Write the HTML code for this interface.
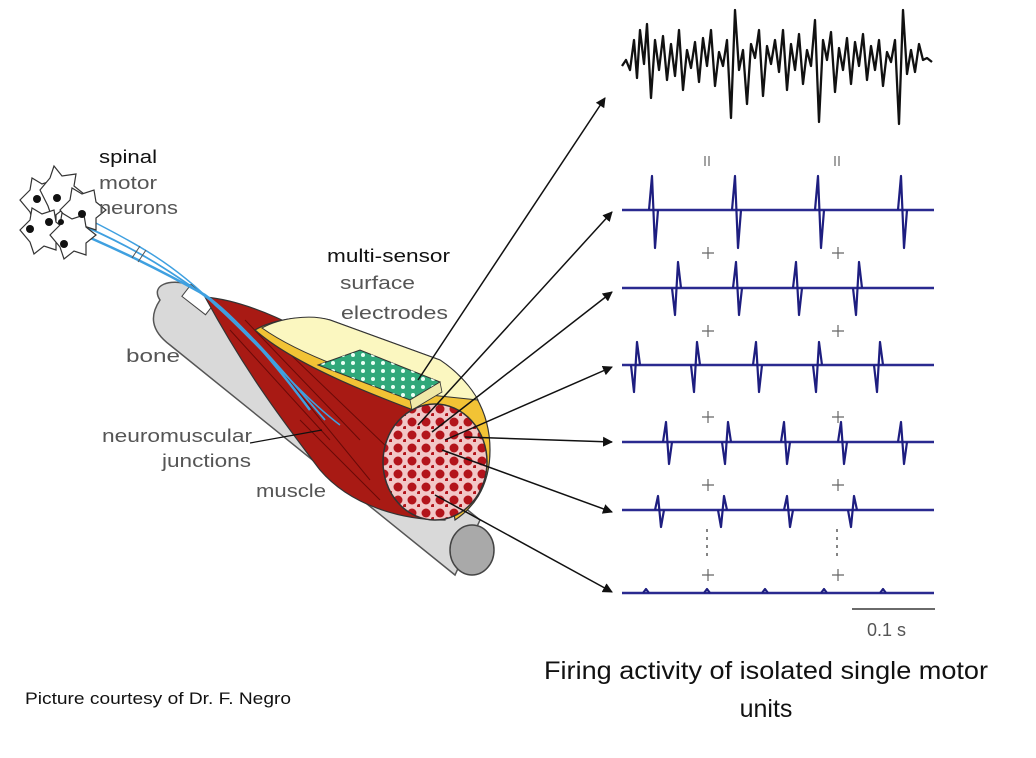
<!DOCTYPE html>
<html><head><meta charset="utf-8"><style>
html,body{margin:0;padding:0;background:#fff;}
svg{display:block;}
.lbl{font-family:"Liberation Sans",sans-serif;font-size:18px;fill:#555;}
.cal{font-family:"Liberation Sans","DejaVu Sans",sans-serif;fill:#111;}
</style></head><body>
<svg width="1036" height="758" viewBox="0 0 1036 758" xmlns="http://www.w3.org/2000/svg">
<defs>
<marker id="ah" markerWidth="10" markerHeight="10" refX="9" refY="5" orient="auto" markerUnits="userSpaceOnUse">
<path d="M0,0 L10,5 L0,10 z" fill="#111"/></marker>
<pattern id="dots" width="10" height="8" patternUnits="userSpaceOnUse">
<circle cx="3" cy="3" r="2" fill="#e8fff4"/></pattern>
<pattern id="fib" width="14" height="13" patternUnits="userSpaceOnUse">
<rect width="14" height="13" fill="#f2c7c7"/>
<circle cx="6" cy="6" r="4.5" fill="#b3141b"/><circle cx="13" cy="12" r="2" fill="#b3141b"/></pattern>
</defs>

<!-- bone -->
<path d="M160,300 C150,285 170,278 190,285 L480,520 L455,575 L170,345 C150,330 150,315 160,300 z" fill="#d9d9d9" stroke="#555" stroke-width="1.5"/>
<ellipse cx="472" cy="550" rx="22" ry="25" fill="#a9a9a9" stroke="#444" stroke-width="1.5"/>
<rect x="183" y="292" width="30" height="15" transform="rotate(38 198 300)" fill="#fff" stroke="#444"/>

<!-- muscle red body -->
<path d="M205,297 C240,300 300,320 380,380 L440,420 L445,520 C400,520 350,505 320,470 C290,430 250,380 205,297 z" fill="#a81a14" stroke="#333" stroke-width="1.2"/>
<path d="M230,330 L330,440 M245,320 L360,440 M265,330 L390,450 M280,370 L370,480 M300,420 L380,500" stroke="#6a0a08" stroke-width="1" fill="none"/>
<!-- yellow fat layer -->
<path d="M255,330 C275,318 310,315 330,320 L440,360 C470,380 490,410 490,450 C490,490 470,510 455,520 L440,420 C400,405 300,370 255,330 z" fill="#f2c335" stroke="#333" stroke-width="1.2"/>
<path d="M262,328 C280,318 310,314 330,320 L440,360 C455,370 470,385 478,400 L430,395 C370,380 300,355 262,328 z" fill="#fbf7c0" stroke="#333" stroke-width="1"/>
<!-- electrode grid -->
<path d="M318,365 L360,350 L440,382 L410,400 z" fill="#2fa87a" stroke="#333" stroke-width="1"/>
<path d="M318,365 L360,350 L440,382 L410,400 z" fill="url(#dots)"/>
<path d="M410,400 L440,382 L442,392 L412,410 z" fill="#efe8a8" stroke="#333" stroke-width="0.8"/>
<!-- cross section -->
<ellipse cx="435" cy="462" rx="52" ry="58" fill="url(#fib)" stroke="#333" stroke-width="1.5"/>

<!-- nerve -->
<path d="M60,225 C120,250 160,270 205,295 C240,320 280,370 310,410" stroke="#3fa0e0" stroke-width="2.5" fill="none"/>
<path d="M70,220 C130,245 170,270 210,300 C250,330 290,380 325,420" stroke="#3fa0e0" stroke-width="1.8" fill="none"/>
<path d="M80,215 C140,245 175,265 215,305 C255,340 300,395 340,425" stroke="#3fa0e0" stroke-width="1.5" fill="none"/>
<path d="M132,258 l8,-12 M138,262 l8,-12" stroke="#555" stroke-width="1"/>

<!-- neurons -->
<g fill="#fff" stroke="#333" stroke-width="1.2">
<path d="M20,200 l10,-10 l2,-12 l10,6 l12,-4 l2,12 l10,8 l-10,8 l0,12 l-12,-4 l-10,8 l-4,-12 z"/>
<path d="M40,190 l10,-12 l4,-12 l8,10 l14,-2 l-2,12 l10,8 l-10,8 l0,12 l-12,-4 l-10,8 l-4,-12 z"/>
<path d="M60,210 l10,-10 l2,-12 l10,6 l12,-4 l2,12 l10,8 l-10,8 l0,12 l-12,-4 l-10,8 l-4,-12 z"/>
<path d="M20,230 l10,-10 l2,-12 l10,6 l12,-4 l2,12 l10,8 l-10,8 l0,12 l-12,-4 l-10,8 l-4,-12 z"/>
<path d="M50,235 l10,-10 l2,-12 l10,6 l12,-4 l2,12 l10,8 l-10,8 l0,12 l-12,-4 l-10,8 l-4,-12 z"/>
</g>
<g fill="#111"><circle cx="37" cy="199" r="4"/><circle cx="57" cy="198" r="4"/><circle cx="82" cy="214" r="4"/><circle cx="49" cy="222" r="4"/><circle cx="30" cy="229" r="4"/><circle cx="64" cy="244" r="4"/><circle cx="61" cy="222" r="3"/></g>

<!-- labels -->
<g lengthAdjust="spacingAndGlyphs">
<text x="99" y="163" class="cal" font-size="18" textLength="58" lengthAdjust="spacingAndGlyphs">spinal</text>
<text x="99" y="189" class="lbl" textLength="58" lengthAdjust="spacingAndGlyphs">motor</text>
<text x="99" y="214" class="lbl" textLength="79" lengthAdjust="spacingAndGlyphs">neurons</text>
<text x="327" y="262" class="cal" font-size="18" textLength="123" lengthAdjust="spacingAndGlyphs">multi-sensor</text>
<text x="340" y="289" class="lbl" textLength="75" lengthAdjust="spacingAndGlyphs">surface</text>
<text x="341" y="319" class="lbl" textLength="107" lengthAdjust="spacingAndGlyphs">electrodes</text>
<text x="126" y="362" class="lbl" textLength="54" lengthAdjust="spacingAndGlyphs">bone</text>
<text x="102" y="442" class="lbl" textLength="150" lengthAdjust="spacingAndGlyphs">neuromuscular</text>
<text x="162" y="467" class="lbl" textLength="89" lengthAdjust="spacingAndGlyphs">junctions</text>
<text x="256" y="497" class="lbl" textLength="70" lengthAdjust="spacingAndGlyphs">muscle</text>
</g>
<line x1="250" y1="443" x2="322" y2="430" stroke="#111" stroke-width="1.2"/>

<!-- arrows -->
<g stroke="#111" stroke-width="1.5" fill="none" marker-end="url(#ah)">
<line x1="418" y1="380" x2="605" y2="98"/>
<line x1="418" y1="425" x2="612" y2="212"/>
<line x1="432" y1="432" x2="612" y2="292"/>
<line x1="445" y1="440" x2="612" y2="367"/>
<line x1="465" y1="437" x2="612" y2="442"/>
<line x1="442" y1="450" x2="612" y2="512"/>
<line x1="435" y1="495" x2="612" y2="592"/>
</g>

<!-- raw EMG -->
<path d="M622,66 L626,60 L630,70 L634,40 L637,78 L640,30 L644,64 L647,24 L651,98 L655,40 L659,70 L663,36 L667,80 L671,44 L675,76 L679,30 L683,90 L687,50 L691,68 L695,42 L699,82 L703,38 L707,66 L711,30 L715,86 L719,52 L723,66 L727,40 L731,118 L735,10 L739,70 L743,50 L747,104 L751,44 L755,58 L759,30 L763,96 L767,46 L771,64 L775,40 L779,72 L783,30 L787,90 L791,44 L795,70 L799,34 L803,84 L807,50 L811,66 L815,20 L819,122 L823,40 L827,60 L831,32 L835,92 L839,48 L843,70 L847,38 L851,84 L855,42 L859,66 L863,34 L867,80 L871,46 L875,70 L879,40 L883,86 L887,52 L891,62 L895,40 L899,124 L903,10 L907,74 L911,50 L915,72 L919,44 L923,60 L927,58 L932,62" stroke="#111" stroke-width="2.3" fill="none" stroke-linejoin="round"/>

<!-- spike trains -->
<g stroke="#2a2a90" stroke-width="2.5" fill="none">
<line x1="622" y1="210" x2="934" y2="210"/>
<line x1="622" y1="288" x2="934" y2="288"/>
<line x1="622" y1="365" x2="934" y2="365"/>
<line x1="622" y1="442" x2="934" y2="442"/>
<line x1="622" y1="510" x2="934" y2="510"/>
<line x1="622" y1="593" x2="934" y2="593"/>
</g>
<g stroke="#1e1e80" stroke-width="2.2" fill="none" stroke-linejoin="round">
<path d="M649,210 L652,176 L655,248 L658,210 M732,210 L735,176 L738,248 L741,210 M815,210 L818,176 L821,248 L824,210 M898,210 L901,176 L904,248 L907,210"/>
<path d="M672,288 L675,315 L678,262 L681,288 M733,288 L736,262 L739,315 L742,288 M793,288 L796,262 L799,315 L802,288 M853,288 L856,315 L859,262 L862,288"/>
<path d="M631,365 L634,392 L637,342 L640,365 M691,365 L694,392 L697,342 L700,365 M753,365 L756,342 L759,392 L762,365 M813,365 L816,392 L819,342 L822,365 M874,365 L877,392 L880,342 L883,365"/>
<path d="M663,442 L666,422 L669,464 L672,442 M722,442 L725,464 L728,422 L731,442 M781,442 L784,422 L787,464 L790,442 M838,442 L841,422 L844,464 L847,442 M898,442 L901,422 L904,464 L907,442"/>
<path d="M655,510 L658,496 L661,527 L664,510 M718,510 L721,527 L724,496 L727,510 M784,510 L787,496 L790,527 L793,510 M848,510 L851,527 L854,496 L857,510"/>
<path d="M643,593 L646,589 L649,593 M704,593 L707,589 L710,593 M762,593 L765,589 L768,593 M821,593 L824,589 L827,593 M880,593 L883,589 L886,593"/>
</g>
<g stroke="#666" stroke-width="1.2">
<path d="M705,156 v10 M709,156 v10 M835,156 v10 M839,156 v10"/>
<path d="M702,253 h12 M708,247 v12 M832,253 h12 M838,247 v12"/>
<path d="M702,331 h12 M708,325 v12 M832,331 h12 M838,325 v12"/>
<path d="M702,417 h12 M708,411 v12 M832,417 h12 M838,411 v12"/>
<path d="M702,485 h12 M708,479 v12 M832,485 h12 M838,479 v12"/>
<path d="M702,575 h12 M708,569 v12 M832,575 h12 M838,569 v12"/>
<path d="M707,529 v3 M707,537 v3 M707,545 v3 M707,553 v3 M837,529 v3 M837,537 v3 M837,545 v3 M837,553 v3" stroke-width="1.6"/>
</g>
<line x1="852" y1="609" x2="935" y2="609" stroke="#111" stroke-width="1.3"/>
<text x="867" y="636" class="lbl" font-size="16" fill="#333">0.1 s</text>

<text x="544" y="679" class="cal" font-size="25" textLength="444" lengthAdjust="spacingAndGlyphs">Firing activity of isolated single motor</text>
<text x="766" y="717" class="cal" font-size="25" text-anchor="middle">units</text>
<text x="25" y="704" class="cal" font-size="17" textLength="266" lengthAdjust="spacingAndGlyphs">Picture courtesy of Dr. F. Negro</text>
</svg>
</body></html>
